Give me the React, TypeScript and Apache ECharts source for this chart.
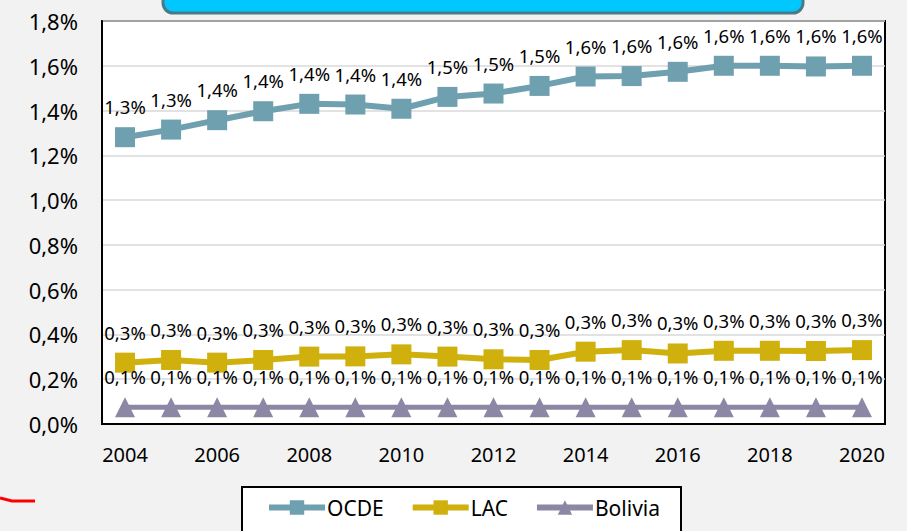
import React, { useEffect, useRef } from "react";
import * as echarts from "echarts";

const years = ["2004","2005","2006","2007","2008","2009","2010","2011","2012","2013","2014","2015","2016","2017","2018","2019","2020"];
const ocde = [1.281, 1.315, 1.357, 1.397, 1.43, 1.427, 1.408, 1.461, 1.476, 1.51, 1.552, 1.554, 1.573, 1.6, 1.6, 1.597, 1.6];
const lac = [0.274, 0.286, 0.274, 0.286, 0.301, 0.302, 0.311, 0.301, 0.289, 0.286, 0.323, 0.33, 0.315, 0.327, 0.327, 0.326, 0.33];
const bolivia = [0.075, 0.075, 0.075, 0.075, 0.075, 0.075, 0.075, 0.075, 0.075, 0.075, 0.075, 0.075, 0.075, 0.075, 0.075, 0.075, 0.075];

const FONT = "Noto Sans";
const fmt = (v: number) => v.toFixed(1).replace(".", ",") + "%";

export default function App() {
  const ref = useRef<HTMLDivElement>(null);
  useEffect(() => {
    if (!ref.current) return;
    const chart = echarts.init(ref.current, null, { renderer: "svg" });
    const mkSeries = (name: string, data: number[], color: string, symbol: string, lw: number) => ({
      name,
      type: "line",
      data,
      symbol,
      symbolSize: 20,
      lineStyle: { color, width: lw },
      itemStyle: { color },
      label: {
        show: true,
        position: "top",
        distance: 11,
        color: "#000",
        fontFamily: FONT,
        fontSize: 18.5,
        formatter: (p: any) => fmt(p.value),
      },
      z: 3,
    });
    chart.setOption({
      animation: false,
      backgroundColor: "#f2f2f2",
      textStyle: { fontFamily: FONT },
      grid: {
        left: 102,
        right: 22,
        top: 21,
        bottom: 107,
        show: true,
        backgroundColor: "#fff",
        borderColor: "#000",
        borderWidth: 2,
      },
      xAxis: {
        type: "category",
        data: years,
        boundaryGap: true,
        axisLine: { show: true, lineStyle: { color: "#000", width: 2 } },
        axisTick: { show: false },
        axisLabel: { interval: 1, color: "#000", fontSize: 20, fontFamily: FONT, margin: 20 },
        splitLine: { show: false },
      },
      yAxis: {
        type: "value",
        min: 0,
        max: 1.8,
        interval: 0.2,
        axisLine: { show: true, lineStyle: { color: "#000", width: 2 } },
        axisTick: { show: false },
        axisLabel: { color: "#000", fontSize: 22, fontFamily: FONT, margin: 24, formatter: (v: number) => fmt(v) },
        splitLine: { show: true, lineStyle: { color: "#d9d9d9", width: 1.5 } },
      },
      legend: {
        left: 266,
        top: 497,
        padding: 0,
        itemWidth: 56,
        itemHeight: 18,
        itemGap: 26,
        lineStyle: { width: 6 },
        textStyle: { color: "#000", fontSize: 21, fontFamily: FONT, padding: [0, 0, 0, -3] },
        data: ["OCDE", "LAC", "Bolivia"],
        z: 10,
      },
      graphic: [
        {
          type: "rect",
          z: 1,
          shape: { x: 163, y: -25, width: 640, height: 38, r: 10 },
          style: { fill: "#00c8ff", stroke: "#4a7a88", lineWidth: 3 },
        },
        {
          type: "rect",
          z: 1,
          shape: { x: 242, y: 487, width: 439, height: 70 },
          style: { fill: "#fff", stroke: "#000", lineWidth: 2 },
        },
        {
          type: "polyline",
          z: 1,
          shape: { points: [[0, 498], [12, 501], [35, 501]] },
          style: { stroke: "#ff0000", lineWidth: 3, fill: "none" },
        },
      ],
      series: [
        mkSeries("OCDE", ocde, "#6fa0b0", "rect", 6),
        mkSeries("LAC", lac, "#cfb00d", "rect", 6),
        mkSeries("Bolivia", bolivia, "#8b87a5", "triangle", 5),
      ],
    });
    return () => chart.dispose();
  }, []);
  return (
    <div
      ref={ref}
      style={{ position: "absolute", left: 0, top: 0, width: 907, height: 531, background: "#f2f2f2" }}
    />
  );
}
